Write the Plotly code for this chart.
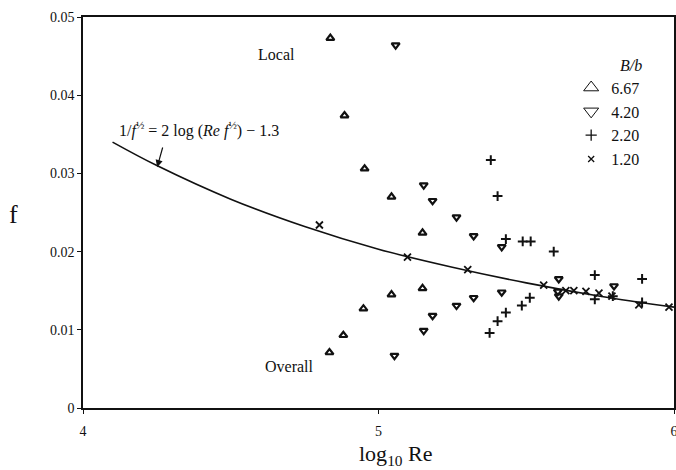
import plotly.graph_objects as go

# Friction factor f versus log10 Re for four aspect ratios B/b.
# "Local" values sit above the curve, "Overall" values below it.

# B/b = 6.67
re_667 = [4.837, 4.885, 4.953, 5.044, 5.149, 4.834, 4.881, 4.949, 5.044, 5.149]
f_667 = [0.0473, 0.0374, 0.0306, 0.0270, 0.0224, 0.0071, 0.0093, 0.0127, 0.0145, 0.0153]

# B/b = 4.20
re_420 = [5.058, 5.153, 5.183, 5.264, 5.322, 5.417, 5.610, 5.797,
          5.054, 5.153, 5.183, 5.264, 5.322, 5.417, 5.607, 5.610]
f_420 = [0.0464, 0.0285, 0.0265, 0.0244, 0.0220, 0.0206, 0.0165, 0.0156,
         0.0067, 0.0099, 0.0118, 0.0131, 0.0141, 0.0148, 0.0149, 0.0143]

# B/b = 2.20
re_220 = [5.380, 5.403, 5.431, 5.488, 5.515, 5.593, 5.732, 5.892,
          5.376, 5.403, 5.431, 5.485, 5.512, 5.732, 5.793, 5.892]
f_220 = [0.0317, 0.0271, 0.0216, 0.0213, 0.0213, 0.0200, 0.0170, 0.0165,
         0.0096, 0.0111, 0.0122, 0.0131, 0.0141, 0.0139, 0.0143, 0.0135]

# B/b = 1.20
re_120 = [4.800, 5.098, 5.302, 5.559, 5.634, 5.661, 5.702, 5.746, 5.790, 5.881, 5.983]
f_120 = [0.0234, 0.0193, 0.0177, 0.0157, 0.0150, 0.0150, 0.0149, 0.0147, 0.0143, 0.0132, 0.0129]

# Correlation curve 1/f^1/2 = 2 log(Re f^1/2) - 1.3
curve_re = [4.1, 4.25, 4.5, 4.75, 5.0, 5.25, 5.5, 5.75, 6.0]
curve_f = [0.0340, 0.0310, 0.0267, 0.0232, 0.0203, 0.0180, 0.0160, 0.0143, 0.0129]

legend_labels = ["6.67", "4.20", "2.20", "1.20"]
y_ticks = [0, 0.01, 0.02, 0.03, 0.04, 0.05]
y_tick_text = ["0", "0.01", "0.02", "0.03", "0.04", "0.05"]
x_ticks = [4, 5, 6]

SERIF = "Liberation Serif"
INK = "#111111"

fig = go.Figure()

fig.add_trace(go.Scatter(
    x=curve_re, y=curve_f, mode="lines", line=dict(color=INK, width=1.6, shape="spline"),
    showlegend=False, hoverinfo="skip"))

series = [
    (re_667, f_667, "triangle-up-open", 7, 2.2),
    (re_420, f_420, "triangle-down-open", 7, 2.2),
    (re_220, f_220, "cross-thin-open", 7, 2.0),
    (re_120, f_120, "x-thin-open", 7, 1.8),
]
legend_sizes = [13, 13, 8, 6]
legend_widths = [1.0, 1.0, 1.3, 1.3]

for (xs, ys, sym, size, lw), lab, ls, llw in zip(series, legend_labels, legend_sizes, legend_widths):
    fig.add_trace(go.Scatter(
        x=xs, y=ys, mode="markers",
        marker=dict(symbol=sym, size=size, color=INK, line=dict(color=INK, width=lw)),
        showlegend=False, name=lab))
    # key entry
    fig.add_trace(go.Scatter(
        x=[None], y=[None], mode="markers", name=lab,
        marker=dict(symbol=sym, size=ls, color=INK, line=dict(color=INK, width=llw))))

axis_common = dict(
    showline=True, linecolor=INK, linewidth=1.5, mirror=True,
    ticks="outside", ticklen=4, tickwidth=1.2, tickcolor=INK,
    showgrid=False, zeroline=False,
    tickfont=dict(family=SERIF, size=14, color=INK),
)

fig.update_xaxes(range=[4, 6], tickvals=x_ticks, ticktext=[str(v) for v in x_ticks],
                 ticklabelstandoff=5, ticklabeloverflow="allow", **axis_common)
fig.update_yaxes(range=[0, 0.05], tickvals=y_ticks, ticktext=y_tick_text, **axis_common)

annotations = [
    dict(text="Local", x=0.328, y=0.903, xref="paper", yref="paper", showarrow=False,
         xanchor="center", yanchor="middle", font=dict(family=SERIF, size=16, color=INK)),
    dict(text="Overall", x=0.349, y=0.107, xref="paper", yref="paper", showarrow=False,
         xanchor="center", yanchor="middle", font=dict(family=SERIF, size=16, color=INK)),
    dict(text="1/<i>f</i><sup>½</sup> = 2 log (<i>Re f</i><sup>½</sup>) − 1.3",
         x=0.196, y=0.711, xref="paper", yref="paper", showarrow=False,
         xanchor="center", yanchor="middle", font=dict(family=SERIF, size=16, color=INK)),
    dict(text="", x=4.251, y=0.0308, xref="x", yref="y", ax=4.271, ay=0.0335,
         axref="x", ayref="y", showarrow=True, arrowhead=2, arrowsize=1.2,
         arrowwidth=1.2, arrowcolor=INK),
    dict(text="f", x=-0.118, y=0.494, xref="paper", yref="paper", showarrow=False,
         xanchor="center", yanchor="middle", font=dict(family=SERIF, size=26, color=INK)),
    dict(text="log<sub>10</sub> Re", x=0.528, y=-0.121, xref="paper", yref="paper",
         showarrow=False, xanchor="center", yanchor="middle",
         font=dict(family=SERIF, size=22, color=INK)),
]

fig.update_layout(
    width=676, height=470,
    margin=dict(l=83, r=2, t=17, b=62, autoexpand=False),
    paper_bgcolor="white", plot_bgcolor="white",
    annotations=annotations,
    legend=dict(
        title=dict(text="<i>B/b</i>", font=dict(family=SERIF, size=16, color=INK), side="top right"),
        x=0.826, y=0.916, xanchor="left", yanchor="top",
        font=dict(family=SERIF, size=16, color=INK),
        bgcolor="rgba(0,0,0,0)", itemwidth=30, tracegroupgap=0,
    ),
)

fig.write_html("out.html")
